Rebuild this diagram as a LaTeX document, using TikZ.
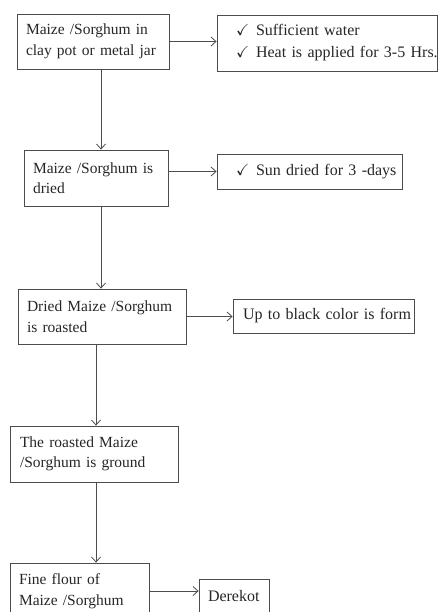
\documentclass[tikz,border=0pt]{standalone}
\usepackage{fontspec}
\usepackage{amssymb}
\setmainfont{Liberation Serif}
\usetikzlibrary{arrows.meta}
\tikzset{
  stage/.style={draw=black!70, line width=.8pt, align=left, inner xsep=9pt, inner ysep=2pt,
    font=\fontsize{15.5}{20.5}\selectfont, text=black!85},
  note/.style={stage, inner xsep=2pt, font=\fontsize{16}{22}\selectfont},
  flow/.style={-{Straight Barb[length=5pt,width=9pt]}, draw=black!70, line width=.8pt},
}
\newcommand{\tickline}[1]{\mbox{\hspace*{17pt}\makebox[20pt][l]{$\checkmark$}#1}}
\begin{document}
\begin{tikzpicture}[x=1pt, y=-1pt]
  \useasboundingbox (0,0) rectangle (439,612);
  % main steps
  \node[stage, minimum width=152pt, minimum height=55pt, text width=134pt] (pot) at (93,41.5)
    {Maize /Sorghum in\\clay pot or metal jar};
  \node[stage, minimum width=144pt, minimum height=56pt, text width=126pt] (dried) at (96,178)
    {Maize /Sorghum is\\dried};
  \node[stage, minimum width=168pt, minimum height=55pt, text width=150pt] (roasted) at (102,316.5)
    {Dried Maize /Sorghum\\is roasted};
  \node[stage, minimum width=168pt, minimum height=56pt, text width=148pt, inner xsep=10pt] (ground) at (94,454)
    {The roasted Maize\\/Sorghum is ground};
  \node[stage, minimum width=139pt, minimum height=56pt, text width=121pt] (flour) at (79.5,591)
    {Fine flour of\\Maize /Sorghum};
  % side notes
  \node[note, minimum width=220pt, minimum height=56pt, text width=216pt] (heat) at (327,43)
    {\tickline{Sufficient water}\\\tickline{Heat is applied for 3-5 Hrs.}};
  \node[note, minimum width=185pt, minimum height=35pt, text width=181pt] (sun) at (309.5,171.5)
    {\tickline{Sun dried for 3 -days}};
  \node[note, minimum width=181pt, minimum height=34pt, text width=177pt] (black) at (323.5,316)
    {\hspace*{8pt}Up to black color is form};
  \node[note, minimum width=70pt, minimum height=34pt, text width=66pt] (derekot) at (234,596)
    {\hspace*{7pt}Derekot};
  % arrows
  \draw[flow] (pot.east) -- (pot.east -| heat.west);
  \draw[flow] (dried.east |- sun.west) -- (sun.west);
  \draw[flow] (roasted.east) -- (roasted.east -| black.west);
  \draw[flow] (flour.east) -- (flour.east -| derekot.west);
  \draw[flow] (pot.south -| 101,0) -- (dried.north -| 101,0);
  \draw[flow] (dried.south -| 101,0) -- (roasted.north -| 101,0);
  \draw[flow] (roasted.south -| 96,0) -- (ground.north -| 96,0);
  \draw[flow] (ground.south -| 96,0) -- (flour.north -| 96,0);
\end{tikzpicture}
\end{document}
